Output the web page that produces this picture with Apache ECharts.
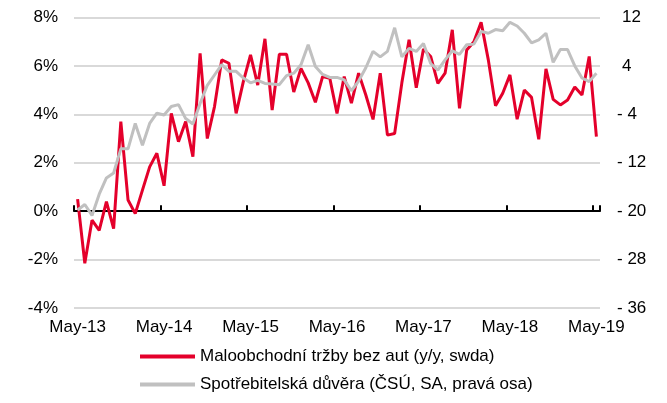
<!DOCTYPE html>
<html>
<head>
<meta charset="utf-8">
<script src="https://cdn.jsdelivr.net/npm/echarts@6/dist/echarts.min.js"></script>
<style>
  html, body { margin: 0; padding: 0; background: #fff; }
  #line-charts { width: 667px; height: 403px; }
</style>
</head>
<body>
<div id="line-charts"></div>
<script>
// osa x: mesice May-13 .. May-19
var monthNames = ["Jan", "Feb", "Mar", "Apr", "May", "Jun", "Jul", "Aug", "Sep", "Oct", "Nov", "Dec"];
var categories = [];
for (var i = 0; i < 73; i++) {
  var m = (4 + i) % 12;
  var y = 13 + Math.floor((4 + i) / 12);
  categories.push(monthNames[m] + "-" + y);
}

// maloobchodni trzby bez aut, y/y v %
var retailSales = [
  0.5, -2.15, -0.37, -0.79, 0.39, -0.72, 3.7, 0.46, -0.1, 0.87, 1.83, 2.39,
  1.05, 4.04, 2.87, 3.7, 2.25, 6.52, 3.0, 4.32, 6.25, 6.11, 4.04, 5.35,
  6.46, 5.21, 7.12, 4.18, 6.48, 6.48, 4.92, 5.9, 5.3, 4.5, 5.56, 5.49,
  4.04, 5.56, 4.46, 5.7, 4.8, 3.79, 5.7, 3.14, 3.21, 5.3, 7.08, 5.1,
  6.7, 6.39, 5.28, 5.7, 7.49, 4.25, 6.66, 7.0, 7.8, 6.25, 4.35, 4.87,
  5.63, 3.8, 5.0, 4.7, 2.97, 5.88, 4.62, 4.39, 4.59, 5.13, 4.8, 6.39,
  3.08
];

// spotrebitelska duvera (prava osa)
var consumerConfidence = [
  -19.8, -18.9, -20.7, -17.2, -14.5, -13.7, -9.7, -9.7, -5.5, -9.1, -5.5, -3.8,
  -4.1, -2.7, -2.4, -4.7, -5.6, -2.2, 0.8, 2.5, 4.2, 3.1, 3.1, 2.0,
  1.2, 1.6, 1.1, 1.0, 0.9, 2.4, 2.8, 4.2, 7.5, 3.9, 2.6, 2.1,
  2.1, 1.7, -0.1, 1.5, 3.7, 6.4, 5.5, 6.4, 10.3, 5.5, 6.9, 6.4,
  7.7, 4.4, 3.3, 5.0, 6.5, 5.9, 7.5, 7.6, 9.7, 9.4, 10.0, 9.8,
  11.2, 10.6, 9.4, 7.8, 8.3, 9.4, 4.6, 6.7, 6.7, 4.0, 2.0, 1.4,
  2.8
];

var seriesNames = ["Maloobchodní tržby bez aut (y/y, swda)", "Spotřebitelská důvěra (ČSÚ, SA, pravá osa)"];
var leftTicks = { min: -4, max: 8, interval: 2 };
var rightTicks = { min: -36, max: 12, interval: 8 };

var font = "Liberation Sans, Arial, sans-serif";
var fs = 17;

var options = {
  animation: false,
  textStyle: { fontFamily: font },
  grid: { left: 74, right: 67, top: 17.5, bottom: 95 },
  legend: {
    orient: "vertical",
    left: 140,
    top: 347,
    height: 56,
    padding: 0,
    itemGap: 9,
    itemWidth: 55,
    itemHeight: 4,
    icon: "rect",
    textStyle: { fontSize: fs, color: "#000", fontFamily: font, lineHeight: 19 },
    data: seriesNames
  },
  xAxis: [
    {
      // popisky dole
      type: "category",
      data: categories,
      boundaryGap: true,
      axisLine: { show: false, onZero: false },
      axisTick: { show: false },
      axisLabel: { interval: 11, margin: 11, fontSize: fs, color: "#000", fontFamily: font }
    },
    {
      // nulova osa s ryskami
      type: "category",
      data: categories,
      boundaryGap: true,
      axisLine: { show: true, onZero: true, onZeroAxisIndex: 0, lineStyle: { color: "#000", width: 2 } },
      axisTick: { show: true, interval: 11, length: 6, lineStyle: { color: "#000", width: 2 } },
      axisLabel: { show: false }
    }
  ],
  yAxis: [
    {
      type: "value",
      min: leftTicks.min,
      max: leftTicks.max,
      interval: leftTicks.interval,
      axisLine: { show: false },
      axisTick: { show: false },
      splitLine: { lineStyle: { color: "#d9d9d9", width: 2 } },
      axisLabel: { formatter: "{value}%", margin: 16, fontSize: fs, color: "#000", fontFamily: font }
    },
    {
      type: "value",
      position: "right",
      min: rightTicks.min,
      max: rightTicks.max,
      interval: rightTicks.interval,
      axisLine: { show: false },
      axisTick: { show: false },
      splitLine: { show: false },
      axisLabel: {
        align: "left",
        margin: 17,
        fontSize: fs,
        color: "#000",
        fontFamily: font,
        formatter: function (v) {
          return v < 0 ? "- " + (-v) : "{p|" + v + "}";
        },
        rich: { p: { padding: [0, 0, 0, 5], fontSize: fs, color: "#000", fontFamily: font } }
      }
    }
  ],
  series: [
    {
      name: seriesNames[0],
      type: "line",
      xAxisIndex: 0,
      yAxisIndex: 0,
      symbol: "none",
      itemStyle: { color: "#e4002b" },
      lineStyle: { color: "#e4002b", width: 3 },
      data: retailSales
    },
    {
      name: seriesNames[1],
      type: "line",
      xAxisIndex: 0,
      yAxisIndex: 1,
      symbol: "none",
      itemStyle: { color: "#c0c0c0" },
      lineStyle: { color: "#c0c0c0", width: 3 },
      data: consumerConfidence
    }
  ]
};

var myCharts = echarts.init(document.getElementById("line-charts"));
myCharts.setOption(options);
</script>
</body>
</html>
